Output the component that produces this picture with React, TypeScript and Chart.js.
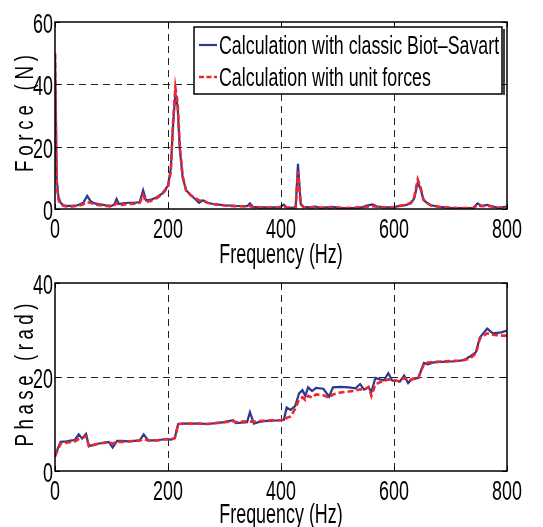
import React, { useEffect, useRef } from 'react';
import { Chart, registerables } from 'chart.js';

Chart.register(...registerables);

const FONT = "'Liberation Sans', Arial, Helvetica, sans-serif";
const BLUE = '#2b3a8c';
const RED = '#f0262d';

// ---------- data ----------
const forceFreq = [0, 3, 6, 10, 15, 20, 30, 40, 50, 57, 63, 70, 80, 90, 100, 105, 109, 113, 120, 130, 140, 150, 156, 161, 170, 180, 190, 200, 205, 209, 213, 217, 221, 226, 232, 240, 248, 255, 262, 270, 280, 290, 300, 320, 340, 345, 350, 365, 380, 395, 400, 405, 410, 420, 426, 430, 435, 440, 450, 460, 470, 490, 510, 530, 545, 550, 562, 570, 585, 600, 610, 620, 630, 636, 642, 647, 652, 658, 665, 680, 700, 720, 740, 748, 755, 765, 775, 785, 800];
const forceBiot = [50, 10, 4, 2, 1.2, 1, 1, 1.2, 2, 4.2, 2.5, 1.8, 1.5, 1.2, 1, 1.5, 3.2, 1.6, 1.8, 2, 2, 2.2, 6, 2.8, 3, 3.8, 5, 7.5, 13, 27, 37, 33, 19, 10, 6, 4.5, 3.2, 2, 2.8, 2, 1.6, 1.4, 1.2, 1, 0.9, 1.8, 0.7, 0.5, 0.5, 0.6, 0.8, 1.4, 0.5, 0.4, 0.6, 14.5, 1.5, 0.7, 0.5, 0.8, 0.4, 0.7, 0.3, 0.4, 0.6, 1, 1.5, 0.8, 0.5, 0.6, 1, 1.2, 1.8, 3.5, 8.5, 6.5, 3, 2, 1.2, 0.7, 0.4, 0.3, 0.3, 1.8, 1, 1.3, 0.8, 0.4, 0.8];
const forceUnit = [50, 8, 3, 1.5, 1, 0.8, 0.8, 1, 1.5, 2.2, 2, 1.5, 1.2, 1, 0.8, 1.2, 2, 1.2, 1.4, 1.6, 1.7, 2, 4.5, 2.3, 2.6, 3.5, 4.8, 7, 12, 28, 39, 34, 20, 10.5, 6, 4.5, 3.5, 2.8, 2.6, 2, 1.6, 1.3, 1.1, 0.9, 0.8, 1, 0.6, 0.5, 0.5, 0.5, 0.6, 0.8, 0.5, 0.4, 0.5, 12, 1.5, 0.6, 0.5, 0.6, 0.4, 0.5, 0.3, 0.4, 0.5, 0.7, 0.9, 0.7, 0.5, 0.6, 1, 1.3, 2, 4, 9.5, 7, 3, 2, 1.2, 0.7, 0.4, 0.3, 0.3, 1.2, 0.9, 1, 0.7, 0.4, 0.6];

const phaseFreq = [0, 5, 10, 20, 30, 35, 42, 48, 55, 60, 70, 80, 95, 102, 110, 120, 130, 140, 150, 157, 165, 180, 190, 200, 205, 212, 218, 230, 240, 255, 270, 285, 300, 315, 320, 330, 340, 345, 352, 360, 370, 385, 400, 405, 410, 417, 425, 432, 438, 443, 448, 455, 462, 475, 485, 492, 505, 520, 532, 540, 547, 555, 560, 567, 575, 582, 590, 597, 605, 610, 618, 625, 632, 643, 653, 660, 670, 685, 700, 715, 725, 735, 745, 752, 765, 775, 782, 790, 800];
const phaseBiot = [3, 4.8, 6.2, 6.3, 6.5, 6.6, 7.8, 6.9, 7.9, 5.3, 5.6, 5.9, 6.2, 5, 6.4, 6.4, 6.3, 6.4, 6.5, 7.8, 6.5, 6.5, 6.7, 6.8, 6.7, 7, 10, 10.1, 10.1, 10.1, 10, 10.2, 10.4, 10.8, 10.2, 10.3, 10.4, 12.5, 10.1, 10.4, 10.6, 10.7, 10.8, 10.9, 13.5, 13, 13.8, 16.5, 17.2, 16, 17.8, 17, 17.7, 17.5, 15.8, 17.8, 17.9, 17.8, 17.6, 18.5, 17.3, 17.8, 16.8, 19.8, 19.5, 19.3, 20.8, 19.2, 19.2, 19, 20.3, 18.7, 19.6, 19.8, 23, 22.7, 23.1, 23.2, 23.3, 23.4, 23.7, 24.4, 25.3, 28.4, 30.3, 29.3, 29.4, 29.5, 29.9];
const phaseUnit = [3.2, 4.5, 5.8, 6, 6.2, 6.3, 6.8, 7, 7.4, 5.3, 5.6, 5.9, 6.1, 5.8, 6.2, 6.2, 6.3, 6.4, 6.5, 6.8, 6.5, 6.5, 6.7, 6.8, 6.7, 7, 10, 10.1, 10.1, 10.1, 10, 10.2, 10.4, 10.6, 10.4, 10.5, 10.6, 10.5, 10.5, 10.6, 10.7, 10.8, 10.8, 10.8, 11.3, 11.6, 13.2, 15.2, 15.7, 15.1, 16, 15.6, 16.3, 16.1, 15.6, 16.3, 16.7, 16.9, 17.1, 17.4, 17.3, 17.9, 16, 18.4, 18.9, 19.1, 19.5, 19.4, 19.2, 19.1, 19.8, 19.2, 19.5, 19.8, 22.8, 23.1, 23.2, 23.3, 23.4, 23.5, 23.6, 24, 25, 28.2, 29.3, 29, 28.9, 28.8, 28.8];

const freqRange = [0, 800];
const forceRange = [0, 60];
const phaseRange = [0, 40];
const tickStep = [200, 20];
const xTitle = 'Frequency (Hz)';
const forceTitle = 'Force (N)';
const phaseTitle = 'Phase (rad)';
const legendLabels = ['Calculation with classic Biot\u2013Savart', 'Calculation with unit forces'];

// ---------- drawing helpers ----------
const TICK_SIZE = 28;
const SX = 0.64;

function squeezed(ctx: CanvasRenderingContext2D, text: string, x: number, y: number, size: number, sx: number, align: CanvasTextAlign) {
  ctx.save();
  ctx.translate(x, y);
  ctx.scale(sx, 1);
  ctx.font = `${size}px ${FONT}`;
  ctx.textAlign = align;
  ctx.textBaseline = 'alphabetic';
  ctx.fillStyle = '#000';
  ctx.fillText(text, 0, 0);
  ctx.restore();
}

function spacedVertical(ctx: CanvasRenderingContext2D, text: string, x: number, cy: number, size: number, length: number, squeeze: number) {
  ctx.save();
  ctx.font = `${size}px ${FONT}`;
  const chars = Array.from(text);
  const widths = chars.map((c) => ctx.measureText(c).width * squeeze);
  const natural = widths.reduce((s, w) => s + w, 0);
  const gap = (length - natural) / (chars.length - 1);
  ctx.translate(x, cy);
  ctx.rotate(-Math.PI / 2);
  ctx.fillStyle = '#000';
  ctx.textAlign = 'left';
  ctx.textBaseline = 'alphabetic';
  let pos = -length / 2;
  chars.forEach((c, i) => {
    ctx.save();
    ctx.translate(pos, 0);
    ctx.scale(squeeze, 1);
    ctx.fillText(c, 0, 0);
    ctx.restore();
    pos += widths[i] + gap;
  });
  ctx.restore();
}

function matlabAxes(opts: { yTitle: string; titleLen: number; legend: boolean; titleOffset: number }) {
  return {
    id: 'matlabAxes',
    beforeDatasetsDraw(chart: any) {
      const { ctx, chartArea: a } = chart;
      const xs = chart.scales.x;
      const ys = chart.scales.y;
      ctx.save();
      ctx.strokeStyle = '#222';
      ctx.lineWidth = 1;
      ctx.setLineDash([7, 5]);
      ctx.beginPath();
      xs.ticks.forEach((t: any) => {
        if (t.value > xs.min && t.value < xs.max) {
          const p = Math.round(xs.getPixelForValue(t.value)) + 0.5;
          ctx.moveTo(p, a.top);
          ctx.lineTo(p, a.bottom);
        }
      });
      ys.ticks.forEach((t: any) => {
        if (t.value > ys.min && t.value < ys.max) {
          const p = Math.round(ys.getPixelForValue(t.value)) + 0.5;
          ctx.moveTo(a.left, p);
          ctx.lineTo(a.right, p);
        }
      });
      ctx.stroke();
      ctx.restore();
    },
    afterDatasetsDraw(chart: any) {
      const { ctx, chartArea: a } = chart;
      const xs = chart.scales.x;
      const ys = chart.scales.y;
      ctx.save();
      // frame
      ctx.strokeStyle = '#000';
      ctx.lineWidth = 1.5;
      ctx.setLineDash([]);
      ctx.strokeRect(a.left, a.top, a.right - a.left, a.bottom - a.top);
      // inward tick marks
      ctx.lineWidth = 1;
      ctx.beginPath();
      xs.ticks.forEach((t: any) => {
        const p = Math.round(xs.getPixelForValue(t.value)) + 0.5;
        ctx.moveTo(p, a.bottom);
        ctx.lineTo(p, a.bottom - 5);
        ctx.moveTo(p, a.top);
        ctx.lineTo(p, a.top + 5);
      });
      ys.ticks.forEach((t: any) => {
        const p = Math.round(ys.getPixelForValue(t.value)) + 0.5;
        ctx.moveTo(a.left, p);
        ctx.lineTo(a.left + 5, p);
        ctx.moveTo(a.right, p);
        ctx.lineTo(a.right - 5, p);
      });
      ctx.stroke();
      ctx.restore();

      // tick labels
      ys.ticks.forEach((t: any) => {
        squeezed(ctx, String(t.value), a.left - 2, ys.getPixelForValue(t.value) + 11, TICK_SIZE, SX, 'right');
      });
      xs.ticks.forEach((t: any) => {
        squeezed(ctx, String(t.value), xs.getPixelForValue(t.value), a.bottom + 29, TICK_SIZE, SX, 'center');
      });
      // axis titles
      squeezed(ctx, xTitle, (a.left + a.right) / 2, a.bottom + opts.titleOffset, TICK_SIZE, SX, 'center');
      spacedVertical(ctx, opts.yTitle, 33, (a.top + a.bottom) / 2 - 2, 26, opts.titleLen, 0.72);

      // legend
      if (opts.legend) {
        const L = a.left + 139;
        const T = a.top + 5;
        const R = a.right - 5;
        const B = T + 67;
        ctx.save();
        ctx.fillStyle = '#fff';
        ctx.fillRect(L, T, R - L, B - T);
        ctx.strokeStyle = '#000';
        ctx.lineWidth = 1.5;
        ctx.strokeRect(L, T, R - L, B - T);
        ctx.beginPath();
        ctx.moveTo(R + 2, T + 2);
        ctx.lineTo(R + 2, B + 1);
        ctx.stroke();
        const rows = [T + 18, T + 50];
        const styles = [
          { color: BLUE, dash: [] as number[], w: 2.2 },
          { color: RED, dash: [5, 2.5], w: 2.6 },
        ];
        rows.forEach((yy, i) => {
          ctx.save();
          ctx.strokeStyle = styles[i].color;
          ctx.lineWidth = styles[i].w;
          ctx.setLineDash(styles[i].dash);
          ctx.beginPath();
          ctx.moveTo(L + 5, yy);
          ctx.lineTo(L + 23, yy);
          ctx.stroke();
          ctx.restore();
          squeezed(ctx, legendLabels[i], L + 25, yy + 9, 26, 0.685, 'left');
        });
        ctx.restore();
      }
    },
  };
}

function makeConfig(freq: number[], blue: number[], red: number[], yRange: number[], padding: any, opts: any): any {
  return {
    type: 'line',
    data: {
      datasets: [
        {
          label: legendLabels[0],
          data: freq.map((f, i) => ({ x: f, y: blue[i] })),
          borderColor: BLUE,
          borderWidth: 2.2,
          pointRadius: 0,
          tension: 0,
          fill: false,
          order: 1,
        },
        {
          label: legendLabels[1],
          data: freq.map((f, i) => ({ x: f, y: red[i] })),
          borderColor: RED,
          borderWidth: 2.6,
          borderDash: [6, 3],
          pointRadius: 0,
          tension: 0,
          fill: false,
          order: 0,
        },
      ],
    },
    options: {
      responsive: false,
      devicePixelRatio: 1,
      animation: false,
      layout: { padding },
      plugins: { legend: { display: false }, tooltip: { enabled: false } },
      scales: {
        x: { type: 'linear', display: false, min: freqRange[0], max: freqRange[1], ticks: { stepSize: tickStep[0] } },
        y: { type: 'linear', display: false, min: yRange[0], max: yRange[1], ticks: { stepSize: tickStep[1] } },
      },
    },
    plugins: [matlabAxes(opts)],
  };
}

export default function App() {
  const r1 = useRef<HTMLCanvasElement>(null);
  const r2 = useRef<HTMLCanvasElement>(null);
  useEffect(() => {
    const c1 = new Chart(
      r1.current!,
      makeConfig(forceFreq, forceBiot, forceUnit, forceRange, { left: 55, right: 36, top: 22, bottom: 66 }, {
        yTitle: forceTitle,
        titleLen: 117,
        legend: true,
        titleOffset: 54,
      })
    );
    const c2 = new Chart(
      r2.current!,
      makeConfig(phaseFreq, phaseBiot, phaseUnit, phaseRange, { left: 55, right: 36, top: 21, bottom: 56 }, {
        yTitle: phaseTitle,
        titleLen: 143,
        legend: false,
        titleOffset: 52,
      })
    );
    return () => {
      c1.destroy();
      c2.destroy();
    };
  }, []);
  return (
    <div style={{ position: 'absolute', left: 0, top: 0, width: 543, height: 527, background: '#fff', overflow: 'hidden' }}>
      <canvas ref={r1} width={543} height={275} style={{ position: 'absolute', left: 0, top: 0 }} />
      <canvas ref={r2} width={543} height={265} style={{ position: 'absolute', left: 0, top: 262 }} />
    </div>
  );
}
